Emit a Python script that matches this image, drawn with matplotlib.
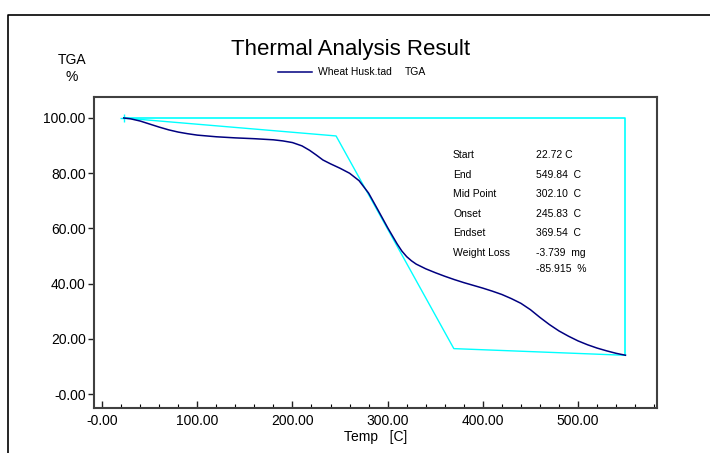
import matplotlib
matplotlib.use("Agg")
import matplotlib.pyplot as plt
from matplotlib.lines import Line2D
from matplotlib.ticker import MultipleLocator, FuncFormatter

plt.rcParams['font.family'] = ['Liberation Sans', 'DejaVu Sans']

# TGA curve
temp = [22.72, 30, 40, 50, 60, 70, 80, 90, 100, 120, 140, 160, 180, 190, 200, 210,
        218, 225, 232, 240, 250, 260, 270, 280, 290, 300, 310, 315, 320, 325, 330,
        340, 350, 360, 370, 380, 390, 400, 410, 420, 430, 440, 450, 460, 470, 480,
        490, 500, 510, 520, 530, 540, 549.84]
tga = [100.0, 99.7, 98.9, 97.8, 96.7, 95.7, 94.9, 94.3, 93.8, 93.2, 92.8, 92.5, 92.1,
       91.7, 91.1, 89.9, 88.3, 86.6, 84.8, 83.4, 81.8, 80.0, 77.3, 72.8, 66.6, 60.3,
       54.4, 51.8, 49.8, 48.3, 47.1, 45.4, 44.0, 42.7, 41.5, 40.4, 39.4, 38.4, 37.3,
       36.1, 34.6, 32.9, 30.6, 27.8, 25.2, 22.9, 21.0, 19.3, 17.9, 16.7, 15.7, 14.8, 14.1]

# analysis construction lines
start_t, end_t = 22.72, 549.84
onset_t, endset_t = 245.83, 369.54
onset_w, endset_w, end_w = 93.5, 16.5, 14.085
top_w = 100.0

labels = ["Start", "End", "Mid Point", "Onset", "Endset", "Weight Loss", ""]
values = ["22.72 C", "549.84  C", "302.10  C", "245.83  C", "369.54  C", "-3.739  mg", "-85.915  %"]

xticks = [0, 100, 200, 300, 400, 500]
yticks = [0, 20, 40, 60, 80, 100]

fig = plt.figure(figsize=(7.10, 4.53), dpi=100)
W, H = 710, 453
ax = fig.add_axes([94 / W, 1 - 408 / H, (657 - 94) / W, (408 - 97) / H])

# cyan construction lines
cy = '#00FFFF'
ax.plot([start_t, end_t, end_t], [top_w, top_w, end_w], color=cy, lw=1.2)
ax.plot([start_t, onset_t, endset_t, end_t], [top_w, onset_w, endset_w, end_w], color=cy, lw=1.0)
ax.plot([start_t], [top_w], marker='+', color=cy, ms=6)
ax.plot(temp, tga, color='#000080', lw=1.1)

ax.set_xlim(-8.5, 583)
ax.set_ylim(-5.0, 107.6)
ax.xaxis.set_minor_locator(MultipleLocator(20))
ax.set_xticks(xticks)
ax.set_yticks(yticks)

def fmt(v, pos=None):
    if abs(v) < 1e-9:
        return "-0.00"
    return "%.2f" % v

ax.xaxis.set_major_formatter(FuncFormatter(fmt))
ax.yaxis.set_major_formatter(FuncFormatter(fmt))
ax.tick_params(axis='x', direction='in', length=5, width=1, labelsize=10, pad=4, colors='#202020')
ax.tick_params(axis='x', which='minor', direction='in', length=3, width=0.8)
ax.tick_params(axis='y', direction='out', length=4, width=1, labelsize=10, pad=2, colors='#202020')
for s in ax.spines.values():
    s.set_color('#404040')
    s.set_linewidth(1.5)
for lab in ax.get_xticklabels() + ax.get_yticklabels():
    lab.set_color('black')

ax.set_xlabel("Temp   [C]", fontsize=10, labelpad=2)

# result table
y0 = 155
for i, (l, v) in enumerate(zip(labels, values)):
    yy = y0 + i * 19.5 if i < 6 else y0 + 5 * 19.5 + 16
    fig.text(453 / W, 1 - yy / H, l, fontsize=7.5, va='center', ha='left')
    fig.text(536 / W, 1 - yy / H, v, fontsize=7.5, va='center', ha='left')

# titles and labels
fig.text(351 / W, 1 - 50 / H, "Thermal Analysis Result", fontsize=16, ha='center', va='center')
fig.text(72 / W, 1 - 60 / H, "TGA", fontsize=10, ha='center', va='center')
fig.text(72 / W, 1 - 77 / H, "%", fontsize=10, ha='center', va='center')

# legend
fig.add_artist(Line2D([278 / W, 312 / W], [1 - 72 / H, 1 - 72 / H], color='#000080', lw=1.1))
fig.text(318 / W, 1 - 72 / H, "Wheat Husk.tad", fontsize=7.5, ha='left', va='center')
fig.text(405 / W, 1 - 72 / H, "TGA", fontsize=7.5, ha='left', va='center')

# outer frame
fig.add_artist(Line2D([8 / W, 8 / W, 1.01], [-0.01, 1 - 15 / H, 1 - 15 / H], color='black', lw=1.2))

fig.savefig("out.png", dpi=100)
